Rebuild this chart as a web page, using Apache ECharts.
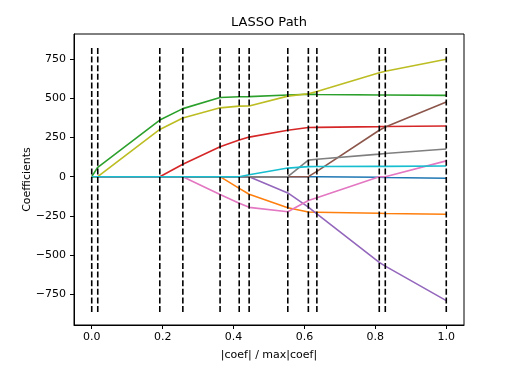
<!DOCTYPE html>
<html>
<head>
<meta charset="utf-8">
<script src="https://cdn.jsdelivr.net/npm/echarts@6/dist/echarts.min.js"></script>
<style>html,body{margin:0;padding:0;background:#fff;}#c{width:509px;height:373px;}</style>
</head>
<body>
<div id="c"></div>
<script>
// knot positions |coef| / max|coef|
const xx = [0, 0.017, 0.192, 0.257, 0.362, 0.416, 0.444, 0.553, 0.611, 0.635, 0.811, 0.828, 1.0];
// coefficient values at each knot
const age = [0, 0, 0, 0, 0, 0, 0, 0, 0, 0, -4, -5, -10];
const sex = [0, 0, 0, 0, 0, -75, -112, -198, -226, -227, -234, -235, -240];
const bmi = [0, 60, 362, 435, 506, 511, 512, 522, 527, 526, 522, 522, 520];
const bp  = [0, 0, 0, 79, 191, 234, 253, 297, 314, 315, 320, 321, 324];
const s1  = [0, 0, 0, 0, 0, 0, 0, -104, -195, -237, -548, -572, -792];
const s2  = [0, 0, 0, 0, 0, 0, 0, 0, 0, 34, 297, 318, 477];
const s3  = [0, 0, 0, 0, -114, -170, -196, -224, -152, -135, 0, 0, 101];
const s4  = [0, 0, 0, 0, 0, 0, 0, 0, 106, 111, 144, 148, 177];
const s5  = [0, 0, 302, 375, 440, 451, 452, 515, 530, 545, 664, 674, 751];
const s6  = [0, 0, 0, 0, 0, 0, 12, 55, 64, 65, 66, 66, 68];
// vertical dashed line extent
const vlineMin = -865;
const vlineMax = 829;
// tick labels
const yTicks = [-750, -500, -250, 0, 250, 500, 750];
const xTicks = [0, 0.2, 0.4, 0.6, 0.8, 1.0];

const seriesList = [age, sex, bmi, bp, s1, s2, s3, s4, s5, s6];
const colors = ['#1f77b4','#ff7f0e','#2ca02c','#d62728','#9467bd','#8c564b','#e377c2','#7f7f7f','#bcbd22','#17becf'];
const font = 'DejaVu Sans';

const series = [];
seriesList.forEach((vals, i) => {
  series.push({
    type: 'line',
    data: vals.map((v, k) => [xx[k], v]),
    symbol: 'none',
    lineStyle: {color: colors[i], width: 1.6},
    z: 2,
    silent: true
  });
});
xx.forEach(x => {
  series.push({
    type: 'line',
    data: [[x, vlineMin], [x, vlineMax]],
    symbol: 'none',
    lineStyle: {color: '#000', width: 1.6, type: [6, 2.6]},
    z: 3,
    silent: true
  });
});

const chart = echarts.init(document.getElementById('c'), null, {renderer: 'canvas'});
chart.setOption({
  animation: false,
  backgroundColor: '#fff',
  title: {
    text: 'LASSO Path',
    left: 269,
    textAlign: 'center',
    top: 16,
    padding: 0,
    textStyle: {fontFamily: font, fontSize: 13, fontWeight: 'normal', color: '#000'}
  },
  grid: {left: 74, right: 45, top: 34, bottom: 48, show: true, borderColor: '#000', borderWidth: 1, backgroundColor: 'transparent'},
  xAxis: {
    type: 'value',
    min: -0.05, max: 1.05,
    name: '|coef| / max|coef|',
    nameLocation: 'middle',
    nameGap: 25,
    nameMoveOverlap: false,
    nameTextStyle: {fontFamily: font, fontSize: 11, color: '#000'},
    axisLine: {show: true, onZero: false, lineStyle: {color: '#000', width: 1}},
    axisTick: {show: true, length: 4, lineStyle: {color: '#000', width: 1}, customValues: xTicks},
    axisLabel: {customValues: xTicks, margin: 7, fontFamily: font, fontSize: 11, color: '#000', formatter: v => v.toFixed(1)},
    splitLine: {show: false}
  },
  yAxis: {
    type: 'value',
    min: -948, max: 912,
    name: 'Coefficients',
    nameLocation: 'middle',
    nameGap: 41,
    nameMoveOverlap: false,
    nameTextStyle: {fontFamily: font, fontSize: 11, color: '#000'},
    axisLine: {show: true, onZero: false, lineStyle: {color: '#000', width: 1}},
    axisTick: {show: true, length: 4, lineStyle: {color: '#000', width: 1}, customValues: yTicks},
    axisLabel: {customValues: yTicks, margin: 8, fontFamily: font, fontSize: 11, color: '#000', formatter: v => v < 0 ? '\u2212' + (-v) : String(v)},
    splitLine: {show: false}
  },
  series: series
});
</script>
</body>
</html>
